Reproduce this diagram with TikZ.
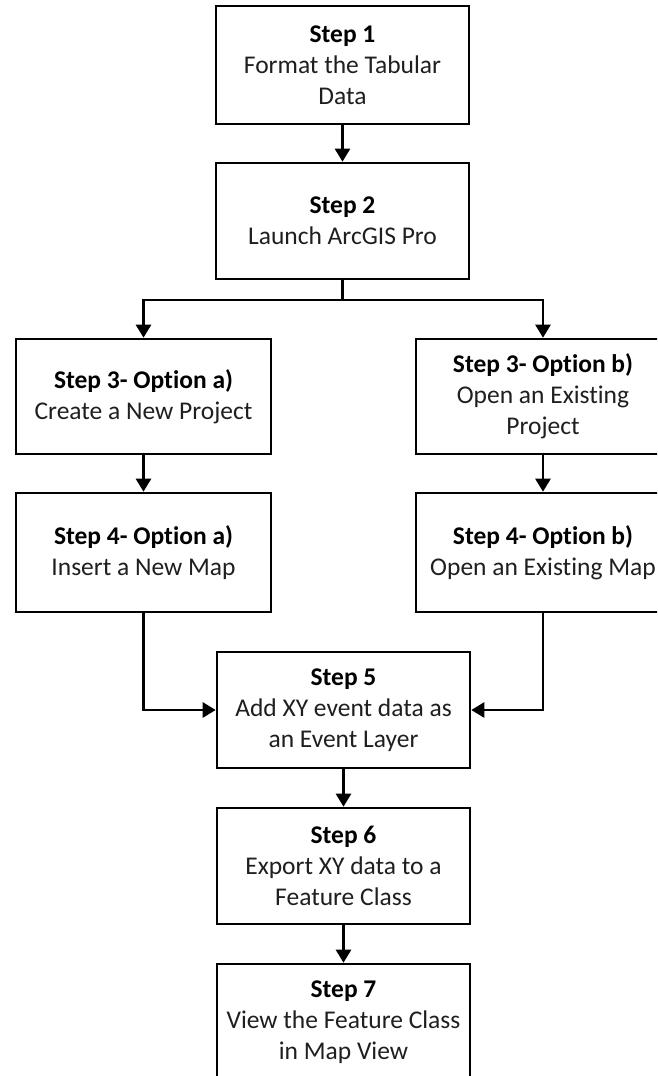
\documentclass[tikz,border=0pt]{standalone}
\usepackage{fontspec}
\setmainfont{Carlito}[Ligatures=NoCommon]
\usetikzlibrary{arrows.meta}
\begin{document}
\begin{tikzpicture}[x=1pt,y=-1pt,
  box/.style={draw=black, line width=2.6pt, fill=white, align=center, inner sep=0pt,
    minimum width=253pt, minimum height=116pt, text=black!88,
    font=\fontsize{25.5}{31}\selectfont},
  arr/.style={line width=2.6pt, -{Triangle[length=13pt,width=15pt]}},
  ln/.style={line width=2.6pt}]
\useasboundingbox (0,0) rectangle (657,1076);
\clip (0,0) rectangle (657,1076);
\fill[white] (0,0) rectangle (657,1076);
\node[box, minimum height=118pt] (s1) at (342.5,65) {\textbf{\color{black}Step 1}\\Format the Tabular\\Data};
\node[box] (s2) at (342.5,221) {\textbf{\color{black}Step 2}\\Launch ArcGIS Pro};
\node[box, minimum width=255pt, minimum height=115pt] (s3a) at (143.5,396.5) {\textbf{\color{black}Step 3- Option a)}\\Create a New Project};
\node[box, minimum width=254pt, minimum height=115pt] (s3b) at (543,396.5) {\textbf{\color{black}Step 3- Option b)}\\Open an Existing\\Project};
\node[box, minimum width=255pt, minimum height=119pt] (s4a) at (143.5,552.5) {\textbf{\color{black}Step 4- Option a)}\\Insert a New Map};
\node[box, minimum width=254pt, minimum height=119pt] (s4b) at (543,552.5) {\textbf{\color{black}Step 4- Option b)}\\Open an Existing Map};
\node[box] (s5) at (343.5,710) {\textbf{\color{black}Step 5}\\Add XY event data as\\an Event Layer};
\node[box] (s6) at (343.5,866) {\textbf{\color{black}Step 6}\\Export XY data to a\\Feature Class};
\node[box] (s7) at (343.5,1022) {\textbf{\color{black}Step 7}\\View the Feature Class\\in Map View};
\coordinate (split) at (342.5,300);
\draw[arr] (s1) -- (s2);
\draw[arr] (s2.south) -- (split) -| (s3a);
\draw[arr] (s2.south) -- (split) -| (s3b);
\draw[arr] (s3a) -- (s4a);
\draw[arr] (s3b) -- (s4b);
\draw[arr] (s4a.south) |- (s5.west);
\draw[arr] (s4b.south) |- (s5.east);
\draw[arr] (s5) -- (s6);
\draw[arr] (s6) -- (s7);
\end{tikzpicture}
\end{document}
